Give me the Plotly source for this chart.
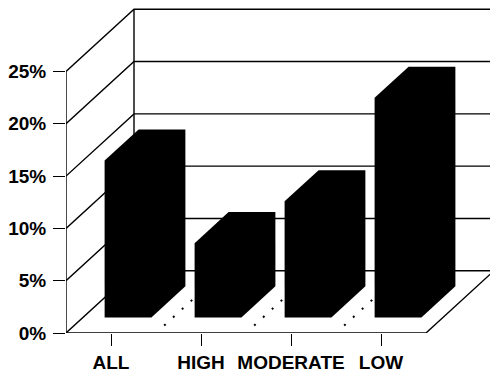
import plotly.graph_objects as go

categories = ["ALL", "HIGH", "MODERATE", "LOW"]
values = [15.0, 7.1, 11.1, 21.0]
y_ticks = [0, 5, 10, 15, 20, 25]
y_tick_labels = ["0%", "5%", "10%", "15%", "20%", "25%"]

DEPTH_X = 0.7556   # category units for full floor depth
DEPTH_Y = 5.95     # percent units for full floor depth
BAR_LO, BAR_HI = 0.24, 0.76
BAR_D0, BAR_D1 = 0.25, 0.75
n = len(categories)


def proj(x, d, v):
    return x + DEPTH_X * d, v + DEPTH_Y * d


def line(points, width=1.4, dash=None):
    xs, ys = zip(*points)
    return go.Scatter(x=xs, y=ys, mode="lines", hoverinfo="skip", showlegend=False,
                      line=dict(color="#000000", width=width, dash=dash))


fig = go.Figure()

# walls and floor
top = y_ticks[-1]
fig.add_trace(line([proj(0, 0, 0), proj(0, 0, top)]))
fig.add_trace(line([proj(0, 1, 0), proj(0, 1, top)]))
fig.add_trace(line([proj(0, 0, 0), proj(n, 0, 0), proj(n, 1, 0)]))
for t in y_ticks:
    fig.add_trace(line([proj(0, 0, t), proj(0, 1, t), proj(n, 1, t)]))

# dotted floor lines between categories
for i in range(1, n):
    fig.add_trace(line([proj(i, 0.12, 0), proj(i, 1, 0)], width=2, dash="2px,10px"))

# bars
for i, v in enumerate(values):
    x0, x1 = i + BAR_LO, i + BAR_HI
    pts = [
        proj(x0, BAR_D0, 0), proj(x1, BAR_D0, 0), proj(x1, BAR_D1, 0),
        proj(x1, BAR_D1, v), proj(x0, BAR_D1, v), proj(x0, BAR_D0, v),
        proj(x0, BAR_D0, 0),
    ]
    xs, ys = zip(*pts)
    fig.add_trace(go.Scatter(x=xs, y=ys, mode="lines", fill="toself", fillcolor="#000000",
                             line=dict(color="#000000", width=0), hoverinfo="skip",
                             showlegend=False))

FONT = dict(family="Liberation Sans", size=19, color="#000000")
W, H = 490, 377
ML, MB = 66, 44
PX_CAT, PX_PCT = 90.0, 10.46

fig.update_layout(
    width=W, height=H,
    autosize=False,
    margin=dict(l=ML, r=0, t=0, b=MB, pad=0),
    paper_bgcolor="white", plot_bgcolor="white",
    showlegend=False,
    xaxis=dict(range=[0, (W - ML) / PX_CAT], showgrid=False, zeroline=False, showline=False,
               tickmode="array", tickvals=[i + 0.5 for i in range(n)],
               ticktext=["<b>%s</b>" % c for c in categories],
               ticks="outside", ticklen=12, tickwidth=1.4, tickcolor="#000000",
               tickfont=FONT, tickangle=0),
    yaxis=dict(range=[0, (H - MB) / PX_PCT], showgrid=False, zeroline=False, showline=False,
               tickmode="array", tickvals=y_ticks,
               ticktext=["<b>%s</b>" % s for s in y_tick_labels],
               ticks="outside", ticklen=12, tickwidth=1.4, tickcolor="#000000",
               tickfont=FONT, ticklabelstandoff=3),
)

fig.write_html("out.html", config=dict(displayModeBar=False),
               post_script="document.body.style.margin='0';document.documentElement.style.overflow='hidden';")
